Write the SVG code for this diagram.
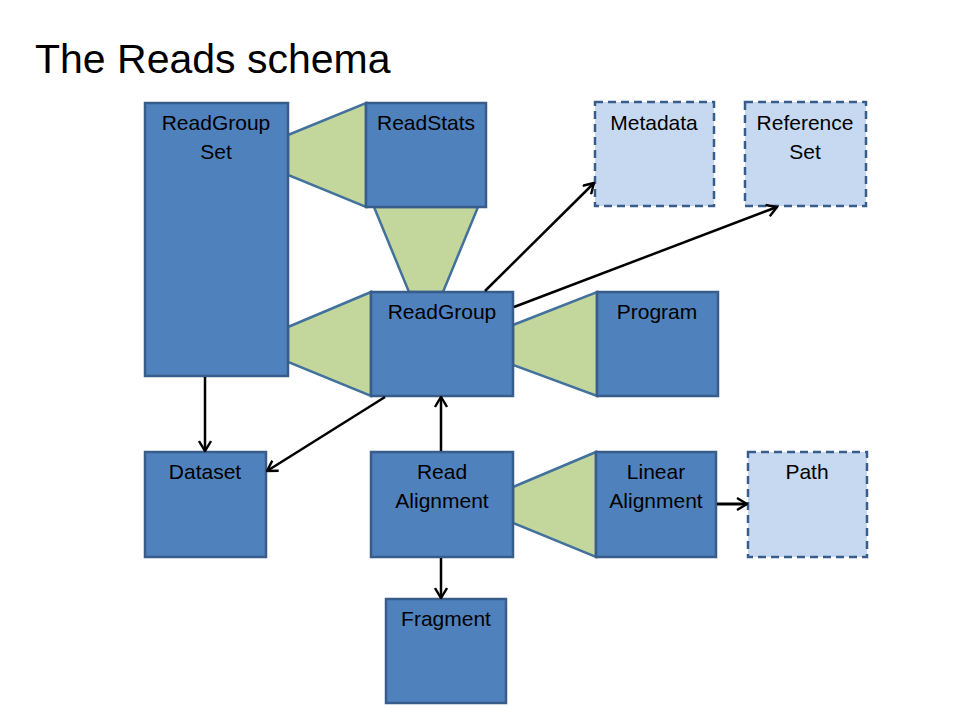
<svg xmlns="http://www.w3.org/2000/svg" width="960" height="720" viewBox="0 0 960 720">
<defs>
<marker id="arr" viewBox="0 0 12 14" refX="11" refY="7" markerWidth="12" markerHeight="14" markerUnits="userSpaceOnUse" orient="auto">
<path d="M1,1 L11,7 L1,13" fill="none" stroke="#000" stroke-width="2.4"/>
</marker>
</defs>
<style>
.box{fill:#4F81BD;stroke:#385D8A;stroke-width:2.5}
.ext{fill:#C6D9F1;stroke:#385D8A;stroke-width:2.5;stroke-dasharray:8 5}
.trap{fill:#C3D69B;stroke:#41719C;stroke-width:2.5;stroke-linejoin:miter}
.lbl{font-family:"Liberation Sans",Arial,sans-serif;font-size:21px;fill:#000;text-anchor:middle}
.con{stroke:#000;stroke-width:2.5;fill:none;marker-end:url(#arr)}
</style>
<rect width="960" height="720" fill="#fff"/>
<text x="35" y="73" font-family="'Liberation Sans',Arial,sans-serif" font-size="41" fill="#000">The Reads schema</text>

<g id="compositions">
<polygon class="trap" points="288,135 366,103 366,207 288,175"/>
<polygon class="trap" points="374,207 478,207 443,292 409,292"/>
<polygon class="trap" points="288,327 371,292 371,396 288,362"/>
<polygon class="trap" points="513,325 597,292 597,396 513,365"/>
<polygon class="trap" points="513,487 596,452 596,557 513,523"/>
</g>

<g id="ReadGroupSet"><rect class="box" x="145" y="103" width="143" height="273"/><text class="lbl" x="216" y="130">ReadGroup</text><text class="lbl" x="216" y="159">Set</text></g>
<g id="ReadStats"><rect class="box" x="366" y="103" width="120" height="104"/><text class="lbl" x="426" y="130">ReadStats</text></g>
<g id="Metadata"><rect class="ext" x="595" y="102" width="119" height="104"/><text class="lbl" x="654" y="130">Metadata</text></g>
<g id="ReferenceSet"><rect class="ext" x="745" y="102" width="121" height="104"/><text class="lbl" x="805" y="130">Reference</text><text class="lbl" x="805" y="159">Set</text></g>
<g id="ReadGroup"><rect class="box" x="371" y="292" width="142" height="104"/><text class="lbl" x="442" y="319">ReadGroup</text></g>
<g id="Program"><rect class="box" x="597" y="292" width="121" height="104"/><text class="lbl" x="657" y="319">Program</text></g>
<g id="Dataset"><rect class="box" x="145" y="452" width="121" height="105"/><text class="lbl" x="205" y="479">Dataset</text></g>
<g id="ReadAlignment"><rect class="box" x="371" y="452" width="142" height="105"/><text class="lbl" x="442" y="479">Read</text><text class="lbl" x="442" y="508">Alignment</text></g>
<g id="LinearAlignment"><rect class="box" x="596" y="452" width="120" height="105"/><text class="lbl" x="656" y="479">Linear</text><text class="lbl" x="656" y="508">Alignment</text></g>
<g id="Path"><rect class="ext" x="748" y="452" width="119" height="105"/><text class="lbl" x="807" y="479">Path</text></g>
<g id="Fragment"><rect class="box" x="386" y="599" width="120" height="104"/><text class="lbl" x="446" y="626">Fragment</text></g>

<g id="connectors">
<line class="con" x1="485" y1="291" x2="594" y2="183"/>
<line class="con" x1="514" y1="307" x2="777" y2="207"/>
<line class="con" x1="205" y1="377" x2="205" y2="451"/>
<line class="con" x1="385" y1="397" x2="267" y2="471"/>
<line class="con" x1="441" y1="451" x2="441" y2="397"/>
<line class="con" x1="441" y1="558" x2="441" y2="598"/>
<line class="con" x1="717" y1="504" x2="747" y2="504" style="stroke-width:3"/>
</g>
</svg>
